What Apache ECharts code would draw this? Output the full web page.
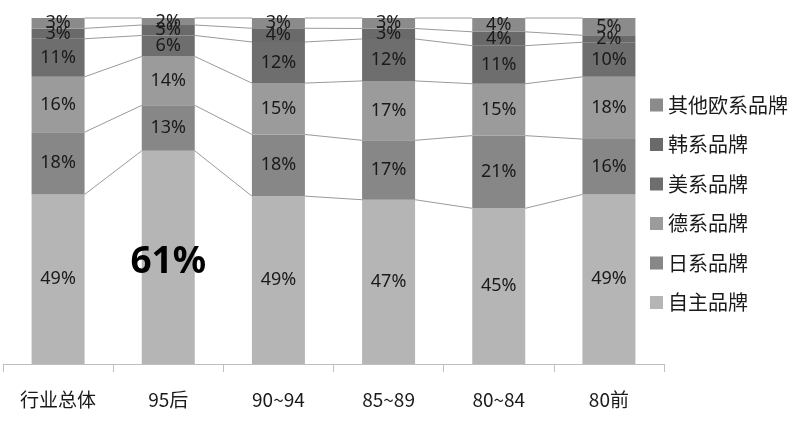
<!DOCTYPE html>
<html>
<head>
<meta charset="utf-8">
<script src="https://cdn.jsdelivr.net/npm/echarts@6/dist/echarts.min.js"></script>
<style>html,body{margin:0;padding:0;background:#fff;}#c{width:800px;height:422px;}</style>
</head>
<body>
<div id="c"></div>
<script>
var categories = ['行业总体', '95后', '90~94', '85~89', '80~84', '80前'];
var seriesNames = ['自主品牌', '日系品牌', '德系品牌', '美系品牌', '韩系品牌', '其他欧系品牌'];
var ziZhu  = [49, 61, 49, 47, 45, 49];
var riXi   = [18, 13, 18, 17, 21, 16];
var deXi   = [16, 14, 15, 17, 15, 18];
var meiXi  = [11, 6, 12, 12, 11, 10];
var hanXi  = [3, 3, 4, 3, 4, 2];
var qiTaOu = [3, 2, 3, 3, 4, 5];

var raw = [ziZhu, riXi, deXi, meiXi, hanXi, qiTaOu];
var colors = ['#b5b5b5', '#878787', '#9b9b9b', '#6e6e6e', '#6a6a6a', '#8b8b8b'];

// 100% stacked: normalize each column to its total
var totals = categories.map(function (_, i) {
  return raw.reduce(function (s, arr) { return s + arr[i]; }, 0);
});
var shares = raw.map(function (arr) {
  return arr.map(function (v, i) { return v / totals[i] * 100; });
});
// cumulative tops per category
var cum = categories.map(function (_, i) {
  var s = 0, out = [];
  for (var k = 0; k < shares.length; k++) { s += shares[k][i]; out.push(s); }
  return out;
});

var BAR_W = 53;

var series = seriesNames.map(function (name, k) {
  return {
    name: name,
    type: 'bar',
    stack: 'all',
    barWidth: BAR_W,
    itemStyle: { color: colors[k] },
    label: {
      show: true,
      position: 'inside',
      color: '#1a1a1a',
      fontSize: 18,
      fontFamily: 'Noto Sans',
      formatter: function (p) { return raw[k][p.dataIndex] + '%'; }
    },
    data: shares[k].map(function (v, i) {
      if (k === 0 && i === 1) {
        return { value: v, label: { fontSize: 37, fontWeight: 'bold', color: '#000', offset: [0, 5] } };
      }
      return v;
    })
  };
});

series.push({
  type: 'custom',
  name: 'lines',
  silent: true,
  z: 1,
  encode: { x: 0, y: 1 },
  data: categories.slice(0, categories.length - 1).map(function (_, i) { return [i, 0]; }),
  renderItem: function (params, api) {
    var i = params.dataIndex;
    var children = [];
    for (var k = 0; k < seriesNames.length; k++) {
      var a = api.coord([i, cum[i][k]]);
      var b = api.coord([i + 1, cum[i + 1][k]]);
      children.push({
        type: 'line',
        shape: { x1: a[0] + BAR_W / 2, y1: a[1], x2: b[0] - BAR_W / 2, y2: b[1] },
        style: { stroke: '#9a9a9a', lineWidth: 1 }
      });
    }
    return { type: 'group', children: children };
  }
});

var chart = echarts.init(document.getElementById('c'), null, { renderer: 'canvas' });
chart.setOption({
  animation: false,
  backgroundColor: '#fff',
  textStyle: { fontFamily: 'Noto Sans, Noto Sans CJK SC' },
  grid: { left: 3, right: 136, top: 18, bottom: 58, containLabel: false },
  legend: {
    orient: 'vertical',
    left: 645,
    top: 90,
    itemWidth: 13,
    itemHeight: 13,
    itemGap: 19.5,
    icon: 'rect',
    textStyle: { fontSize: 20, color: '#1a1a1a', fontFamily: 'Noto Sans CJK SC', lineHeight: 20 },
    data: seriesNames.slice().reverse()
  },
  xAxis: {
    type: 'category',
    data: categories,
    boundaryGap: true,
    axisLine: { lineStyle: { color: '#bfbfbf', width: 1 } },
    axisTick: { show: true, length: 8, lineStyle: { color: '#bfbfbf' } },
    axisLabel: { fontSize: 19, color: '#1a1a1a', margin: 26, fontFamily: 'Noto Sans CJK SC' }
  },
  yAxis: {
    type: 'value',
    min: 0,
    max: 100,
    show: false,
    splitLine: { show: false }
  },
  series: series
});
</script>
</body>
</html>
